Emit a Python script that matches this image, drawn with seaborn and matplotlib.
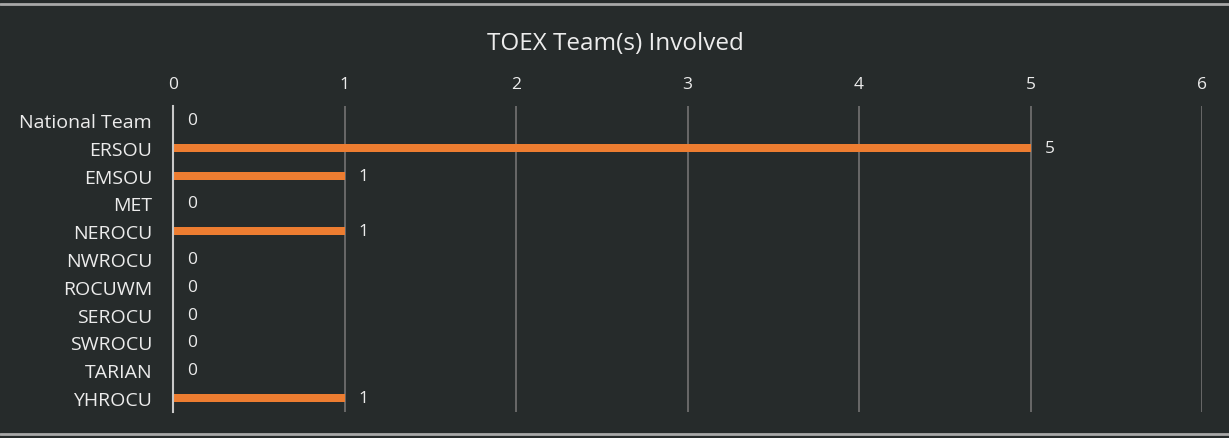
import seaborn as sns
import matplotlib.pyplot as plt
import pandas as pd

# Data
teams = ['National Team', 'ERSOU', 'EMSOU', 'MET', 'NEROCU', 'NWROCU',
         'ROCUWM', 'SEROCU', 'SWROCU', 'TARIAN', 'YHROCU']
counts = [0, 5, 1, 0, 1, 0, 0, 0, 0, 0, 1]
x_ticks = [0, 1, 2, 3, 4, 5, 6]

df = pd.DataFrame({'Team': teams, 'Count': counts})

bg = '#262b2b'
text_col = '#ececec'

sns.set_style('dark')
plt.rcParams['font.family'] = ['Open Sans', 'DejaVu Sans']

fig = plt.figure(figsize=(12.29, 4.39), dpi=100, facecolor=bg)
ax = fig.add_axes([173 / 1229, 1 - 413 / 439, (1202 - 173) / 1229, 306 / 439])
ax.set_facecolor(bg)

sns.barplot(data=df, x='Count', y='Team', orient='h', color='#ed7d31',
            width=0.29, saturation=1, linewidth=0, ax=ax)

# value labels
for cont in ax.containers:
    ax.bar_label(cont, labels=[str(v) for v in counts], padding=10,
                 color=text_col, fontsize=12.5)

ax.set_xlim(0, 6)
ax.set_ylim(10.5, -0.5)
ax.set_xticks(x_ticks)
ax.xaxis.tick_top()
ax.tick_params(axis='x', colors=text_col, labelsize=12.5, length=0, pad=10)
ax.tick_params(axis='y', colors=text_col, labelsize=14, length=0, pad=15)
for lbl in ax.get_yticklabels():
    lbl.set_color(text_col)
ax.set_xlabel('')
ax.set_ylabel('')

ax.grid(axis='x', color='#737373', linewidth=1.2)
ax.grid(axis='y', visible=False)
ax.set_axisbelow(True)
for side in ['top', 'right', 'bottom']:
    ax.spines[side].set_visible(False)
ax.spines['left'].set_color('#c8c8c8')
ax.spines['left'].set_linewidth(1.5)

fig.text(615 / 1229, 1 - 44 / 439, 'TOEX Team(s) Involved', ha='center',
         va='center', color=text_col, fontsize=17.5)

# frame lines at top and bottom of the chart area
fig.add_artist(plt.Line2D([0, 1], [1 - 5 / 439, 1 - 5 / 439], color='#a8a8a8',
                          linewidth=2, transform=fig.transFigure))
fig.add_artist(plt.Line2D([0, 1], [1 - 435 / 439, 1 - 435 / 439], color='#a8a8a8',
                          linewidth=2, transform=fig.transFigure))

fig.savefig('out.png', dpi=100, facecolor=bg)
